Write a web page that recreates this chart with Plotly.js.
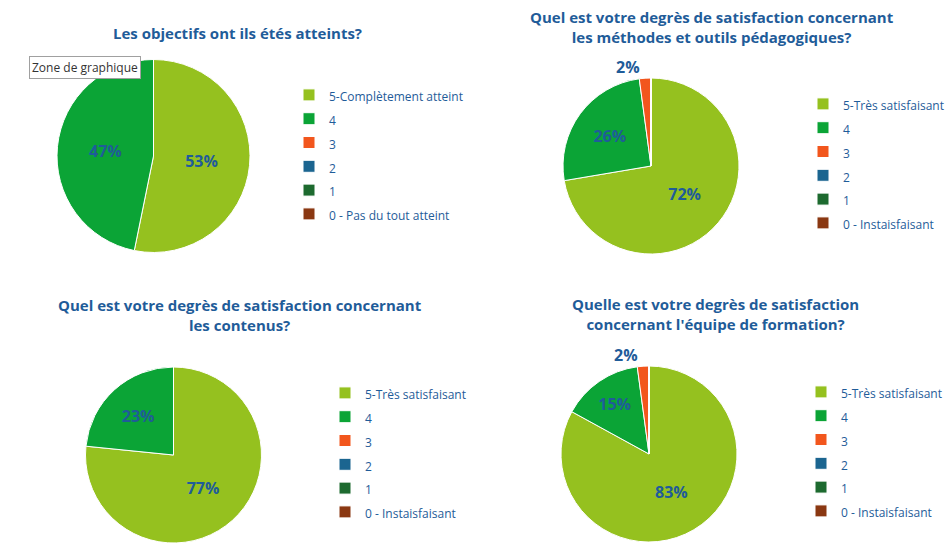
<!DOCTYPE html>
<html>
<head>
<meta charset="utf-8">
<script src="https://cdn.plot.ly/plotly-3.0.1.min.js"></script>
<style>html,body{margin:0;padding:0;background:#fff;}#chart{width:950px;height:555px;}</style>
</head>
<body>
<div id="chart"></div>
<script>
// ---- Data (counts of responses, n = 47) ----
const labelsObjectifs = ["5-Complètement atteint", "4", "3", "2", "1", "0 - Pas du tout atteint"];
const labelsSatisf = ["5-Très satisfaisant", "4", "3", "2", "1", "0 - Instaisfaisant"];

const valuesObjectifs = [25, 22, 0, 0, 0, 0];
const valuesMethodes  = [34, 12, 1, 0, 0, 0];
const valuesContenus  = [36, 11, 0, 0, 0, 0];
const valuesEquipe    = [39, 7, 1, 0, 0, 0];

const titles = [
  "Les objectifs ont ils étés atteints?",
  "Quel est votre degrès de satisfaction concernant<br>les méthodes et outils pédagogiques?",
  "Quel est votre degrès de satisfaction concernant<br>les contenus?",
  "Quelle est votre degrès de satisfaction<br>concernant l'équipe de formation?"
];

const sliceColors = ["#95c11f", "#0ba436", "#f2561d", "#1b6590", "#1d6a2f", "#8a3812"];

// ---- Styling ----
const W = 950, H = 555;
const blue = "#1f5c99";
const FONT = "Open Sans, DejaVu Sans, sans-serif";
const px = v => v / W;
const py = v => 1 - v / H;

// unique (invisible) suffix per chart so that each legend lists all its own categories
function wrapLabels(arr, k) {
  const zw = "\u200b".repeat(k);
  return arr.map(s => '<span style="font-size:12px">' + s + zw + '</span>');
}
function pctText(values) {
  const sum = values.reduce((a, b) => a + b, 0);
  return values.map(v => v > 0 ? Math.round(v / sum * 100) + "%" : "");
}

function pieTrace(labels, values, cx, cy, r, legendId, k) {
  const tf = { family: FONT, size: 16, color: blue, weight: "bold" };
  return {
    type: "pie",
    labels: wrapLabels(labels, k),
    values: values,
    text: pctText(values),
    sort: false,
    direction: "clockwise",
    rotation: 0,
    marker: { colors: sliceColors, line: { color: "#ffffff", width: 1 } },
    textinfo: "text",
    textposition: "auto",
    textfont: tf,
    insidetextfont: tf,
    outsidetextfont: tf,
    hoverinfo: "label+percent",
    domain: { x: [px(cx - r), px(cx + r)], y: [py(cy + r), py(cy - r)] },
    legend: legendId,
    showlegend: true
  };
}

const data = [
  pieTrace(labelsObjectifs, valuesObjectifs, 153.5, 156, 96.5, "legend", 0),
  pieTrace(labelsSatisf, valuesMethodes, 651, 166, 88, "legend2", 1),
  pieTrace(labelsSatisf, valuesContenus, 173.5, 455, 88, "legend3", 2),
  pieTrace(labelsSatisf, valuesEquipe, 649, 454, 88, "legend4", 3)
];

function legendAt(x, y) {
  return {
    x: px(x), y: py(y), xanchor: "left", yanchor: "top",
    bgcolor: "rgba(0,0,0,0)", borderwidth: 0,
    font: { family: FONT, size: 16, color: blue },
    traceorder: "normal"
  };
}

function titleAnn(text, x, y) {
  return {
    text: text, x: px(x), y: py(y), xref: "paper", yref: "paper",
    xanchor: "center", yanchor: "top", showarrow: false,
    font: { family: FONT, size: 15, color: blue, weight: "bold" },
    align: "center"
  };
}

const layout = {
  width: W, height: H,
  margin: { l: 0, r: 0, t: 0, b: 0 },
  paper_bgcolor: "#ffffff",
  plot_bgcolor: "#ffffff",
  font: { family: FONT, color: blue },
  legend: legendAt(289, 78),
  legend2: legendAt(803, 87),
  legend3: legendAt(325, 376),
  legend4: legendAt(801, 375),
  annotations: [
    titleAnn(titles[0], 237, 21),
    titleAnn(titles[1], 712, 5),
    titleAnn(titles[2], 240, 293),
    titleAnn(titles[3], 715, 292),
    {
      text: "Zone de graphique", x: px(29), y: py(56), xref: "paper", yref: "paper",
      xanchor: "left", yanchor: "top", showarrow: false,
      font: { family: FONT, size: 12, color: "#333333" },
      bgcolor: "#ffffff", bordercolor: "#a0a0a0", borderwidth: 1, borderpad: 2
    }
  ],
  showlegend: true
};

Plotly.newPlot("chart", data, layout, { displayModeBar: false, staticPlot: true });
</script>
</body>
</html>
